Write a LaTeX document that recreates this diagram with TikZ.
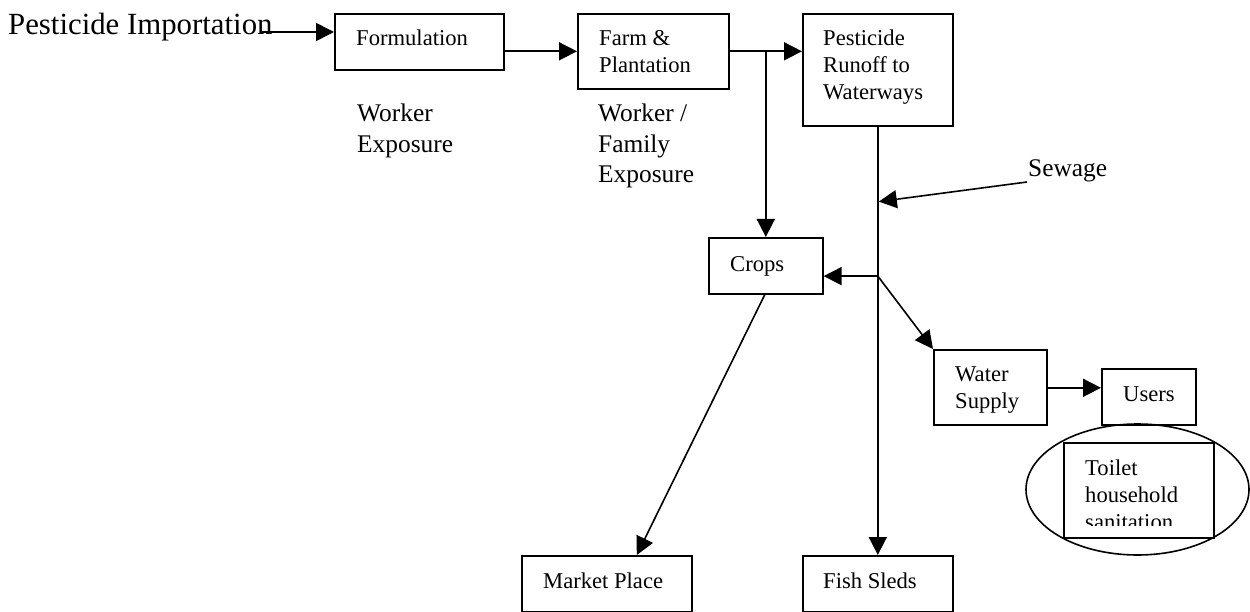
\documentclass[tikz,border=0pt]{standalone}
\usepackage{fontspec}
\setmainfont{Liberation Serif}
\usetikzlibrary{arrows.meta,shapes.geometric}
\tikzset{
  boxshape/.style={draw, line width=1.6pt, inner sep=0pt, anchor=north west, fill=white},
  boxtext/.style={anchor=base west, inner sep=0pt, align=left, font=\fontsize{22.6}{27}\selectfont},
  labeltext/.style={anchor=base west, inner sep=0pt, align=left, font=\fontsize{25.4}{30.5}\selectfont},
  flow/.style={line width=1.6pt, -{Triangle[length=18pt,width=18pt]}},
}
\begin{document}
\begin{tikzpicture}[x=1pt,y=-1pt]
\useasboundingbox (0,0) rectangle (1250,612);

% boxes
\node[boxshape, minimum width=169pt, minimum height=56pt]  (form)   at (334,13)  {};
\node[boxshape, minimum width=151pt, minimum height=75pt]  (farm)   at (577,13)  {};
\node[boxshape, minimum width=150pt, minimum height=112pt] (runoff) at (802,13)  {};
\node[boxshape, minimum width=114pt, minimum height=56pt]  (crops)  at (708,237) {};
\node[boxshape, minimum width=113pt, minimum height=75pt]  (water)  at (933,349) {};
\node[boxshape, minimum width=94pt,  minimum height=56pt]  (users)  at (1101,368) {};
\node[boxshape, minimum width=170pt, minimum height=56pt]  (market) at (521,555) {};
\node[boxshape, minimum width=150pt, minimum height=56pt]  (fish)   at (802,555) {};

% sanitation oval with its inner box
\node[draw, ellipse, line width=1.6pt, inner sep=0pt, minimum width=223pt, minimum height=131pt] (oval) at (1137.5,489.5) {};
\node[boxshape, minimum width=150pt, minimum height=95pt] (toilet) at (1063,442) {};

% box texts (multi-line nodes are placed by the baseline of their last line)
\node[boxtext] (formT)   at (356,46)  {Formulation};
\node[boxtext] (farmT)   at (599,73)  {Farm \&\\Plantation};
\node[boxtext] (runoffT) at (823,100) {Pesticide\\Runoff to\\Waterways};
\node[boxtext] (cropsT)  at (730,272) {Crops};
\node[boxtext] (waterT)  at (955,408) {Water\\Supply};
\node[boxtext] (usersT)  at (1123,401) {Users};
\node[boxtext] (marketT) at (543,588) {Market Place};
\node[boxtext] (fishT)   at (823,588) {Fish Sleds};
\begin{scope}
  % the text frame cuts off the last line
  \clip (1063,442) rectangle (1213,525);
  \node[boxtext] (toiletT) at (1085,529) {Toilet\\household\\sanitation};
\end{scope}

% free labels
\node[anchor=base west, inner sep=0pt, font=\fontsize{30.8}{36}\selectfont] (impT) at (8,35) {Pesticide Importation};
\node[labeltext] (workT) at (357,152.5) {Worker\\Exposure};
\node[labeltext] (famT)  at (598,183) {Worker /\\Family\\Exposure};
\node[labeltext] (sewT)  at (1028,177) {Sewage};

% connectors
\draw[flow] ([xshift=-12pt,yshift=3pt]impT.base east) coordinate (impS) -- (impS -| form.west);
\draw[flow] (farm.west -| form.east) -- (farm.west);
\draw[flow] (farm.east) -- (farm.east -| runoff.west);
\draw[flow] (crops.north |- farm.east) -- (crops.north);
\draw[flow] (runoff.south) -- (fish.north);
\path (runoff.south) ++(0,149.5) coordinate (jn);
\path (runoff.south) ++(1,75) coordinate (sw);
\draw[flow] ([xshift=-1pt,yshift=-5pt]sewT.base west) -- (sw);
\draw[flow] (jn) -- (jn -| crops.east);
\draw[flow] (jn) -- (water.north west);
\draw[flow] ([yshift=-0.5pt]water.east) -- ([yshift=-0.5pt]water.east -| users.west);
\draw[flow] ([xshift=-1pt]crops.south) -- ([xshift=30pt]market.north);
\end{tikzpicture}
\end{document}
